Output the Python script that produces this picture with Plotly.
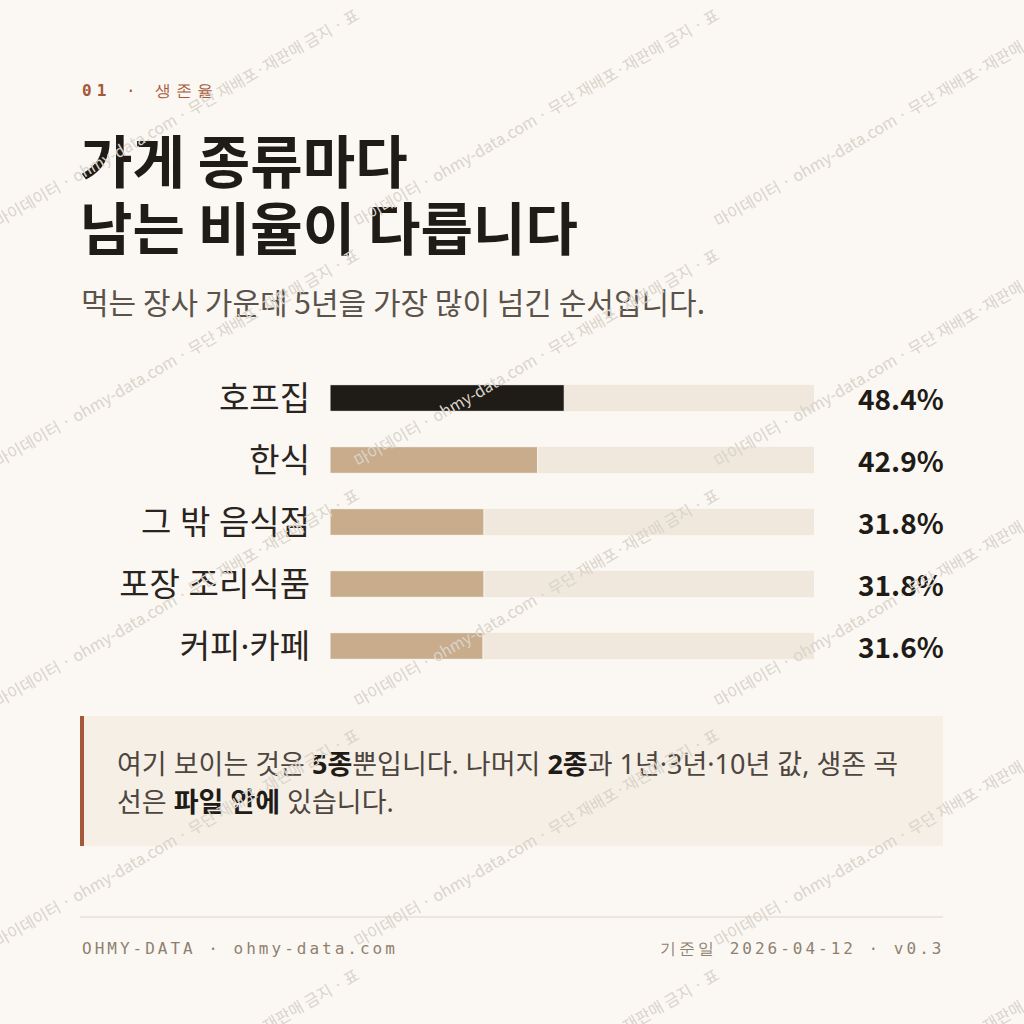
import plotly.graph_objects as go

# ---- data ----
categories = ["호프집", "한식", "그 밖 음식점", "포장 조리식품", "커피·카페"]
survival_5y = [48.4, 42.9, 31.8, 31.8, 31.6]
value_labels = ["48.4%", "42.9%", "31.8%", "31.8%", "31.6%"]
track_max = [100, 100, 100, 100, 100]
highlight = ["호프집"]

eyebrow_num = "01"
eyebrow_text = "생존율"
title_lines = ["가게 종류마다", "남는 비율이 다릅니다"]
subtitle = "먹는 장사 가운데 5년을 가장 많이 넘긴 순서입니다."
footer_left = "OHMY-DATA · ohmy-data.com"
footer_right = "기준일 2026-04-12 · v0.3"
watermark = "마이데이터 · ohmy-data.com · 무단 재배포·재판매 금지 · 표"

# ---- style ----
BG = "#fbf8f3"
INK = "#1f1b17"
SUB = "#5b534b"
RUST = "#a5573a"
TAN = "#c8ac8b"
TRACK = "#f0e8dd"
CALLOUT_BG = "#f6efe6"
FOOT = "#8f8070"
LINE = "#e8e1d6"
WM = "#dad4cb"
KR = "Noto Sans CJK KR, Noto Sans, sans-serif"
KR2 = "Noto Sans, Noto Sans CJK KR, sans-serif"
MONO = "DejaVu Sans Mono, Liberation Mono, monospace"

W = H = 1024


def px(x):
    return x / W


def py(y):
    return 1 - y / H


bar_colors = [INK if c in highlight else TAN for c in categories]

fig = go.Figure()
fig.add_trace(go.Bar(
    y=categories, x=track_max, orientation="h",
    marker=dict(color=TRACK, line=dict(width=0)),
    hoverinfo="skip", showlegend=False,
))
fig.add_trace(go.Bar(
    y=categories, x=survival_5y, orientation="h",
    marker=dict(color=bar_colors, line=dict(width=1, color=BG)),
    showlegend=False,
))

ann = []
# eyebrow
ann.append(dict(
    text='<span style="letter-spacing:5px"><b>%s</b> · %s</span>' % (eyebrow_num, eyebrow_text),
    x=px(80), y=py(90), xref="paper", yref="paper", xanchor="left", yanchor="middle",
    showarrow=False, font=dict(family=MONO, size=16, color=RUST),
))
# title (two lines placed separately for exact line spacing)
for line, yc in zip(title_lines, [158, 225]):
    ann.append(dict(
        text="<b>" + line + "</b>",
        x=px(78), y=py(yc), xref="paper", yref="paper", xanchor="left", yanchor="middle",
        align="left", showarrow=False, font=dict(family=KR, size=57, color=INK),
    ))
# subtitle
ann.append(dict(
    text=subtitle, x=px(79), y=py(301), xref="paper", yref="paper",
    xanchor="left", yanchor="middle", showarrow=False,
    font=dict(family=KR, size=30, color=SUB),
))
# value labels
for c, v in zip(categories, value_labels):
    ann.append(dict(
        text="<b>" + v + "</b>", x=px(946), y=c, xref="paper", yref="y",
        xanchor="right", yanchor="middle", showarrow=False,
        font=dict(family=KR, size=28, color=INK),
    ))
# callout text
b = '<span style="color:%s"><b>%s</b></span>'
callout_lines = [
    "여기 보이는 것은 " + b % (INK, "5종") + "뿐입니다. 나머지 " + b % (INK, "2종")
    + "과 1년·3년·10년 값, 생존 곡",
    "선은 " + b % (INK, "파일 안에") + " 있습니다.",
]
for line, yc in zip(callout_lines, [763, 801]):
    ann.append(dict(
        text=line, x=px(115), y=py(yc), xref="paper", yref="paper",
        xanchor="left", yanchor="middle", align="left", showarrow=False,
        font=dict(family=KR2, size=27, color="#4d453e"),
    ))
# footer
ann.append(dict(
    text='<span style="letter-spacing:3px">' + footer_left + '</span>',
    x=px(80), y=py(948), xref="paper", yref="paper", xanchor="left", yanchor="middle",
    showarrow=False, font=dict(family=MONO, size=16, color=FOOT),
))
ann.append(dict(
    text='<span style="letter-spacing:3px">' + footer_right + '</span>',
    x=px(946), y=py(948), xref="paper", yref="paper", xanchor="right", yanchor="middle",
    showarrow=False, font=dict(family=MONO, size=16, color=FOOT),
))
# watermark tiles
for ty in [0, 240, 480, 720, 960]:
    for tx in [0, 360, 720]:
        ann.append(dict(
            text=watermark, x=px(tx + 176), y=py(ty + 117), xref="paper", yref="paper",
            xanchor="center", yanchor="middle", textangle=-30, showarrow=False,
            font=dict(family=KR, size=16, color=WM),
        ))

shapes = [
    dict(type="rect", xref="paper", yref="paper", x0=px(80), x1=px(943), y0=py(846), y1=py(716),
         fillcolor=CALLOUT_BG, line=dict(width=0), layer="below"),
    dict(type="rect", xref="paper", yref="paper", x0=px(80), x1=px(84), y0=py(846), y1=py(716),
         fillcolor=RUST, line=dict(width=0), layer="below"),
    dict(type="line", xref="paper", yref="paper", x0=px(80), x1=px(943), y0=py(917), y1=py(917),
         line=dict(color=LINE, width=1.5), layer="below"),
]

fig.update_layout(
    width=W, height=H, margin=dict(l=0, r=0, t=0, b=0),
    paper_bgcolor=BG, plot_bgcolor="rgba(0,0,0,0)",
    barmode="overlay", bargap=0.57,
    annotations=ann, shapes=shapes,
    xaxis=dict(domain=[px(330), px(814)], range=[0, 100], visible=False, fixedrange=True),
    yaxis=dict(domain=[py(677), py(367)], autorange="reversed", showgrid=False, zeroline=False,
               showline=False, ticks="", ticklabelstandoff=19, fixedrange=True,
               tickfont=dict(family=KR2, size=33, color="#2a2420")),
    font=dict(family=KR),
)

fig.write_html("out.html", config={"displayModeBar": False},
               post_script="document.body.style.margin='0';document.body.style.overflow='hidden';")
